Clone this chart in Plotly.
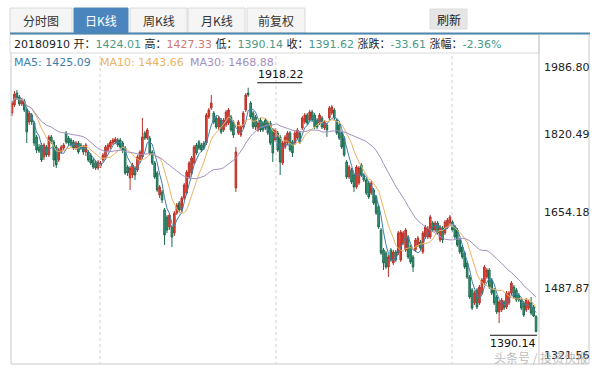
import plotly.graph_objects as go
import pandas as pd

# ---------------- data (daily K-line) ----------------
open_ = [
    1863.7, 1881.0, 1906.9, 1898.3, 1883.2, 1889.6, 1870.2, 1844.3, 1859.4, 1842.1,
    1811.9, 1790.3, 1794.6, 1768.7, 1790.3, 1773.0, 1811.9, 1801.1, 1790.3, 1762.2,
    1779.5, 1788.1, 1820.5, 1809.7, 1805.4, 1801.1, 1788.1, 1798.9, 1794.6, 1790.3,
    1779.5, 1779.5, 1773.0, 1762.2, 1755.7, 1744.9, 1749.2, 1762.2, 1766.5, 1783.8,
    1790.3, 1798.9, 1801.1, 1805.4, 1805.4, 1798.9, 1788.1, 1747.1, 1723.3, 1729.8,
    1744.9, 1740.6, 1762.2, 1768.7, 1820.5, 1809.7, 1809.7, 1779.5, 1755.7, 1734.1,
    1686.6, 1693.1, 1654.2, 1639.1, 1617.5, 1617.5, 1604.5, 1647.7, 1669.3, 1654.2,
    1680.1, 1690.9, 1725.5, 1734.1, 1755.7, 1794.6, 1801.1, 1794.6, 1798.9, 1798.9,
    1855.1, 1874.5, 1863.7, 1852.9, 1833.5, 1848.6, 1827.0, 1837.8, 1842.1, 1855.1,
    1844.3, 1701.7, 1820.5, 1816.2, 1833.5, 1870.2, 1906.9, 1885.3, 1863.7, 1855.1,
    1827.0, 1848.6, 1842.1, 1848.6, 1842.1, 1842.1, 1827.0, 1805.4, 1820.5, 1811.9,
    1755.7, 1790.3, 1798.9, 1820.5, 1801.1, 1798.9, 1809.7, 1820.5, 1831.3, 1844.3,
    1859.4, 1848.6, 1865.9, 1859.4, 1848.6, 1842.1, 1852.9, 1831.3, 1837.8, 1852.9,
    1863.7, 1870.2, 1848.6, 1837.8, 1820.5, 1809.7, 1757.9, 1725.5, 1740.6, 1729.8,
    1703.9, 1712.5, 1751.4, 1729.8, 1719.0, 1712.5, 1690.9, 1697.4, 1682.3, 1660.7,
    1611.0, 1567.8, 1561.3, 1531.1, 1567.8, 1539.7, 1563.5, 1561.3, 1546.2, 1582.9,
    1567.8, 1595.9, 1574.3, 1552.7, 1567.8, 1578.6, 1585.1, 1563.5, 1595.9, 1595.9,
    1595.9, 1626.1, 1611.0, 1626.1, 1589.4, 1615.3, 1604.5, 1617.5, 1626.1, 1628.3,
    1617.5, 1611.0, 1589.4, 1574.3, 1561.3, 1539.7, 1509.5, 1481.4, 1453.3, 1481.4,
    1453.3, 1474.9, 1496.5, 1509.5, 1524.6, 1503.0, 1481.4, 1466.3, 1433.9, 1438.2,
    1455.5, 1444.7, 1453.3, 1474.9, 1487.9, 1481.4, 1470.6, 1459.8, 1453.3, 1438.2,
    1442.5, 1453.3, 1444.7, 1424.01,
]
high = [
    1889.6, 1911.2, 1913.4, 1902.6, 1896.1, 1894.0, 1874.5, 1868.0, 1863.7, 1846.4,
    1816.2, 1796.8, 1798.9, 1798.9, 1794.6, 1816.2, 1816.2, 1805.4, 1794.6, 1788.1,
    1794.6, 1798.9, 1824.8, 1814.0, 1809.7, 1805.4, 1803.2, 1803.2, 1798.9, 1794.6,
    1798.9, 1783.8, 1777.3, 1766.5, 1760.0, 1762.2, 1760.0, 1777.3, 1794.6, 1798.9,
    1805.4, 1809.7, 1811.9, 1809.7, 1809.7, 1803.2, 1792.4, 1751.4, 1749.2, 1755.7,
    1749.2, 1773.0, 1783.8, 1852.9, 1824.8, 1831.3, 1814.0, 1783.8, 1760.0, 1738.4,
    1708.2, 1697.4, 1658.5, 1643.4, 1647.7, 1621.8, 1652.0, 1669.3, 1673.6, 1684.4,
    1712.5, 1740.6, 1760.0, 1770.8, 1794.6, 1798.9, 1805.4, 1798.9, 1803.2, 1863.7,
    1874.5, 1902.6, 1868.0, 1857.2, 1857.2, 1852.9, 1852.9, 1870.2, 1874.5, 1859.4,
    1848.6, 1790.3, 1848.6, 1837.8, 1868.0, 1906.9, 1918.22, 1889.6, 1868.0, 1859.4,
    1846.4, 1852.9, 1846.4, 1852.9, 1846.4, 1846.4, 1831.3, 1831.3, 1824.8, 1816.2,
    1803.2, 1816.2, 1824.8, 1824.8, 1805.4, 1824.8, 1831.3, 1824.8, 1857.2, 1863.7,
    1863.7, 1870.2, 1870.2, 1863.7, 1852.9, 1863.7, 1857.2, 1848.6, 1842.1, 1878.8,
    1881.0, 1874.5, 1852.9, 1842.1, 1824.8, 1814.0, 1762.2, 1751.4, 1744.9, 1734.1,
    1751.4, 1749.2, 1755.7, 1734.1, 1723.3, 1716.8, 1716.8, 1701.7, 1686.6, 1665.0,
    1615.3, 1572.1, 1565.6, 1557.0, 1572.1, 1567.8, 1567.8, 1608.8, 1611.0, 1608.8,
    1615.3, 1600.2, 1578.6, 1557.0, 1593.7, 1598.0, 1589.4, 1608.8, 1621.8, 1619.6,
    1643.4, 1630.4, 1630.4, 1630.4, 1621.8, 1619.6, 1632.6, 1636.9, 1643.4, 1632.6,
    1621.8, 1615.3, 1593.7, 1578.6, 1565.6, 1544.0, 1513.8, 1485.7, 1479.2, 1485.7,
    1492.2, 1507.3, 1535.4, 1528.9, 1528.9, 1507.3, 1485.7, 1470.6, 1459.8, 1464.1,
    1459.8, 1479.2, 1479.2, 1500.8, 1492.2, 1485.7, 1474.9, 1464.1, 1457.6, 1464.1,
    1459.8, 1466.3, 1449.0, 1427.33,
]
low = [
    1857.2, 1876.7, 1891.8, 1878.8, 1878.8, 1865.9, 1798.9, 1837.8, 1837.8, 1792.4,
    1777.3, 1777.3, 1757.9, 1762.2, 1768.7, 1768.7, 1796.8, 1747.1, 1744.9, 1757.9,
    1775.2, 1783.8, 1796.8, 1792.4, 1790.3, 1783.8, 1783.8, 1775.2, 1783.8, 1773.0,
    1770.8, 1757.9, 1751.4, 1742.8, 1740.6, 1740.6, 1744.9, 1757.9, 1762.2, 1779.5,
    1786.0, 1794.6, 1796.8, 1790.3, 1786.0, 1777.3, 1729.8, 1727.6, 1697.4, 1723.3,
    1719.0, 1736.3, 1755.7, 1764.4, 1805.4, 1805.4, 1773.0, 1751.4, 1721.2, 1693.1,
    1680.1, 1669.3, 1578.6, 1604.5, 1611.0, 1574.3, 1598.0, 1643.4, 1649.9, 1649.9,
    1675.8, 1686.6, 1721.2, 1729.8, 1751.4, 1773.0, 1783.8, 1779.5, 1783.8, 1794.6,
    1850.8, 1870.2, 1840.0, 1829.2, 1827.0, 1818.4, 1822.7, 1833.5, 1837.8, 1822.7,
    1809.7, 1693.1, 1816.2, 1811.9, 1829.2, 1865.9, 1898.3, 1850.8, 1829.2, 1827.0,
    1822.7, 1822.7, 1822.7, 1827.0, 1816.2, 1794.6, 1757.9, 1801.1, 1779.5, 1729.8,
    1751.4, 1786.0, 1794.6, 1779.5, 1768.7, 1794.6, 1805.4, 1796.8, 1827.0, 1840.0,
    1837.8, 1844.3, 1844.3, 1829.2, 1829.2, 1837.8, 1829.2, 1827.0, 1811.9, 1848.6,
    1859.4, 1848.6, 1816.2, 1805.4, 1786.0, 1768.7, 1721.2, 1721.2, 1710.4, 1693.1,
    1699.6, 1708.2, 1725.5, 1714.7, 1686.6, 1678.0, 1686.6, 1665.0, 1643.4, 1613.2,
    1557.0, 1524.6, 1526.8, 1509.5, 1541.9, 1535.4, 1541.9, 1557.0, 1541.9, 1578.6,
    1563.5, 1548.4, 1537.6, 1520.3, 1563.5, 1574.3, 1567.8, 1559.2, 1591.6, 1591.6,
    1591.6, 1606.7, 1606.7, 1600.2, 1585.1, 1582.9, 1600.2, 1613.2, 1621.8, 1606.7,
    1591.6, 1574.3, 1559.2, 1548.4, 1526.8, 1505.2, 1462.0, 1438.2, 1449.0, 1440.4,
    1449.0, 1470.6, 1492.2, 1505.2, 1483.6, 1470.6, 1449.0, 1429.6, 1410.1, 1433.9,
    1438.2, 1440.4, 1449.0, 1470.6, 1462.0, 1455.5, 1455.5, 1438.2, 1423.1, 1433.9,
    1438.2, 1427.4, 1423.1, 1390.14,
]
close = [
    1885.3, 1904.8, 1896.1, 1883.2, 1891.8, 1870.2, 1822.7, 1863.7, 1844.3, 1798.9,
    1783.8, 1781.6, 1762.2, 1794.6, 1773.0, 1811.9, 1801.1, 1762.2, 1751.4, 1783.8,
    1790.3, 1794.6, 1801.1, 1798.9, 1794.6, 1788.1, 1798.9, 1779.5, 1788.1, 1779.5,
    1794.6, 1762.2, 1755.7, 1747.1, 1744.9, 1757.9, 1755.7, 1773.0, 1790.3, 1794.6,
    1801.1, 1805.4, 1807.6, 1794.6, 1790.3, 1783.8, 1734.1, 1734.1, 1744.9, 1751.4,
    1729.8, 1768.7, 1779.5, 1811.9, 1809.7, 1827.0, 1777.3, 1755.7, 1725.5, 1697.4,
    1703.9, 1675.8, 1600.2, 1611.0, 1643.4, 1595.9, 1647.7, 1665.0, 1654.2, 1680.1,
    1708.2, 1736.3, 1755.7, 1766.5, 1790.3, 1777.3, 1788.1, 1783.8, 1788.1, 1859.4,
    1870.2, 1885.3, 1844.3, 1833.5, 1852.9, 1822.7, 1848.6, 1865.9, 1870.2, 1827.0,
    1816.2, 1779.5, 1844.3, 1833.5, 1863.7, 1902.6, 1902.6, 1855.1, 1833.5, 1833.5,
    1842.1, 1827.0, 1827.0, 1831.3, 1820.5, 1798.9, 1777.3, 1827.0, 1783.8, 1757.9,
    1798.9, 1811.9, 1820.5, 1783.8, 1777.3, 1820.5, 1827.0, 1801.1, 1852.9, 1859.4,
    1842.1, 1865.9, 1848.6, 1833.5, 1833.5, 1859.4, 1833.5, 1844.3, 1827.0, 1874.5,
    1876.7, 1852.9, 1820.5, 1809.7, 1790.3, 1773.0, 1725.5, 1747.1, 1714.7, 1703.9,
    1747.1, 1744.9, 1729.8, 1719.0, 1690.9, 1682.3, 1712.5, 1669.3, 1647.7, 1617.5,
    1561.3, 1539.7, 1531.1, 1552.7, 1546.2, 1563.5, 1546.2, 1604.5, 1606.7, 1604.5,
    1611.0, 1552.7, 1541.9, 1531.1, 1589.4, 1593.7, 1572.1, 1604.5, 1617.5, 1615.3,
    1639.1, 1611.0, 1626.1, 1604.5, 1617.5, 1589.4, 1628.3, 1632.6, 1639.1, 1611.0,
    1595.9, 1578.6, 1563.5, 1552.7, 1531.1, 1509.5, 1466.3, 1442.5, 1474.9, 1444.7,
    1487.9, 1503.0, 1531.1, 1524.6, 1487.9, 1474.9, 1453.3, 1433.9, 1455.5, 1459.8,
    1442.5, 1474.9, 1474.9, 1496.5, 1466.3, 1459.8, 1459.8, 1442.5, 1427.4, 1459.8,
    1455.5, 1431.7, 1425.23, 1391.62,
]

ma_periods = [5, 10, 30]
ma_values_text = ["1425.09", "1443.66", "1468.88"]
tick_values = [1986.80, 1820.49, 1654.18, 1487.87, 1321.56]
tab_labels = ["分时图", "日K线", "周K线", "月K线", "前复权"]
trade_date = "20180910"
watermark = "头条号 / 投资快报"

# ---------------- styles ----------------
W, H = 598, 368
L, R, T, B = 11, 59, 56, 4
PW, PH = W - L - R, H - T - B

RED_FILL, RED_LINE = "#e8412e", "#b8322a"
GRN_FILL, GRN_LINE = "#36a07a", "#1f6a52"
MA_COLORS = ["#3f7fae", "#eab464", "#a38fc0"]
VAL_GREEN, VAL_RED = "#4c9a88", "#cf7a72"
NUM_FONT = "DejaVu Sans, Noto Sans CJK SC"
CJK_FONT = "Noto Sans CJK SC, DejaVu Sans"


def px(x):
    return (x - L) / PW


def py(y):
    return (T + PH - y) / PH


x = list(range(len(close)))
cs = pd.Series(close)

fig = go.Figure()
fig.add_trace(go.Candlestick(
    x=x, open=open_, high=high, low=low, close=close,
    increasing=dict(fillcolor=RED_FILL, line=dict(color=RED_LINE, width=1)),
    decreasing=dict(fillcolor=GRN_FILL, line=dict(color=GRN_LINE, width=1)),
    whiskerwidth=0, hoverinfo="skip", showlegend=False,
))
for n, col in zip(ma_periods, MA_COLORS):
    fig.add_trace(go.Scatter(
        x=x, y=cs.rolling(n, min_periods=1).mean(), mode="lines",
        line=dict(color=col, width=1), hoverinfo="skip", showlegend=False,
    ))

shapes = []


def rect(x0, y0, x1, y1, fill="rgba(0,0,0,0)", line="#d6d6d6", width=1):
    shapes.append(dict(type="rect", xref="paper", yref="paper",
                       x0=px(x0), x1=px(x1), y0=py(y1), y1=py(y0),
                       fillcolor=fill, line=dict(color=line, width=width), layer="below"))


def hline(x0, x1, y, color="#cfcfcf", width=1, dash="solid"):
    shapes.append(dict(type="line", xref="paper", yref="paper",
                       x0=px(x0), x1=px(x1), y0=py(y), y1=py(y),
                       line=dict(color=color, width=width, dash=dash)))


def vline(x, y0, y1, color="#cfcfcf", width=1, dash="solid"):
    shapes.append(dict(type="line", xref="paper", yref="paper",
                       x0=px(x), x1=px(x), y0=py(y0), y1=py(y1),
                       line=dict(color=color, width=width, dash=dash)))


annotations = []

# tabs
tab_pos = [(10, 72), (74, 128), (130, 187), (188, 245), (247, 305)]
for i, (lab, (a, b)) in enumerate(zip(tab_labels, tab_pos)):
    active = i == 1
    rect(a, 8, b, 33, fill="#4a86bd" if active else "#f5f5f5",
         line="#4a86bd" if active else "#d9d9d9")
    annotations.append(dict(xref="paper", yref="paper", x=px((a + b) / 2), y=py(20.5),
                            text=lab, showarrow=False, xanchor="center", yanchor="middle",
                            font=dict(family=CJK_FONT, size=12,
                                      color="#ffffff" if active else "#333333")))
# refresh button
rect(430, 9, 467, 29, fill="#e6e6e6", line="#dcdcdc")
annotations.append(dict(xref="paper", yref="paper", x=px(448.5), y=py(19), text="刷新",
                        showarrow=False, xanchor="center", yanchor="middle",
                        font=dict(family=CJK_FONT, size=12, color="#222222")))
# frames
rect(10, 34, 539, 53, line="#dadada")
hline(10, 590, 33.5, color="#4f86ad", width=2)
vline(11, 53, 364, color="#c8c8c8")
vline(539, 34, 364, color="#c8c8c8")
vline(589, 34, 364, color="#c8c8c8")
hline(11, 589, 364, color="#c8c8c8")
for gx in (100, 276, 452):
    vline(gx, 56, 364, color="#d0d0d0", dash="dot")

# info row
info = (f'{trade_date} 开：<span style="color:{VAL_GREEN}">{open_[-1]:.2f}</span> '
        f'高：<span style="color:{VAL_RED}">{high[-1]:.2f}</span> '
        f'低：<span style="color:{VAL_GREEN}">{low[-1]:.2f}</span> '
        f'收：<span style="color:{VAL_GREEN}">{close[-1]:.2f}</span> '
        f'涨跌：<span style="color:{VAL_GREEN}">{close[-1] - close[-2]:.2f}</span> '
        f'涨幅：<span style="color:{VAL_GREEN}">{(close[-1] / close[-2] - 1) * 100:.2f}%</span>')
annotations.append(dict(xref="paper", yref="paper", x=px(12), y=py(43.5), text=info,
                        showarrow=False, xanchor="left", yanchor="middle",
                        font=dict(family=NUM_FONT, size=11, color="#222222")))
# MA legend
for n, v, col, lx in zip(ma_periods, ma_values_text, MA_COLORS, (12, 98, 188)):
    annotations.append(dict(xref="paper", yref="paper", x=px(lx), y=py(62.5),
                            text=f"MA{n}: {v}", showarrow=False, xanchor="left",
                            yanchor="middle", font=dict(family=NUM_FONT, size=11, color=col)))
# y tick labels (right panel)
for v, ys in zip(tick_values, (-11, -1, -2, -1, 9)):
    annotations.append(dict(xref="paper", yref="y", x=px(542), y=v, yshift=ys,
                            text=f"{v:.2f}", showarrow=False, xanchor="left",
                            yanchor="middle", font=dict(family=NUM_FONT, size=11, color="#222222")))

# max / min markers
imax = max(range(len(high)), key=lambda i: high[i])
imin = min(range(len(low)), key=lambda i: low[i])
annotations.append(dict(x=imax, y=high[imax], text=f"{high[imax]:.2f}", showarrow=False,
                        xanchor="left", yanchor="bottom", xshift=8, yshift=5,
                        font=dict(family=NUM_FONT, size=11, color="#111111")))
shapes.append(dict(type="line", xref="x", yref="y", xsizemode="pixel", ysizemode="pixel",
                   xanchor=imax, yanchor=high[imax], x0=9, x1=54, y0=5, y1=5,
                   line=dict(color="#111111", width=1)))
annotations.append(dict(x=imin, y=low[imin], text=f"{low[imin]:.2f}", showarrow=False,
                        xanchor="right", yanchor="top", xshift=2, yshift=-3,
                        font=dict(family=NUM_FONT, size=11, color="#111111")))
shapes.append(dict(type="line", xref="x", yref="y", xsizemode="pixel", ysizemode="pixel",
                   xanchor=imin, yanchor=low[imin], x0=-46, x1=1, y0=-3, y1=-3,
                   line=dict(color="#111111", width=1)))

# watermark
annotations.append(dict(xref="paper", yref="paper", x=px(590), y=py(357.5), text=watermark,
                        showarrow=False, xanchor="right", yanchor="middle",
                        font=dict(family=CJK_FONT, size=12, color="rgba(175,175,175,0.85)")))

fig.update_layout(
    width=W, height=H, margin=dict(l=L, r=R, t=T, b=B, pad=0),
    paper_bgcolor="white", plot_bgcolor="white", boxgap=0.08,
    xaxis=dict(visible=False, range=[-0.4, 214.2], rangeslider=dict(visible=False),
               fixedrange=True),
    yaxis=dict(range=[1321.56, 1986.80], showgrid=False, zeroline=False,
               showticklabels=False, showline=False, fixedrange=True),
    shapes=shapes, annotations=annotations, showlegend=False,
)
fig.write_html("out.html", config=dict(displayModeBar=False))
